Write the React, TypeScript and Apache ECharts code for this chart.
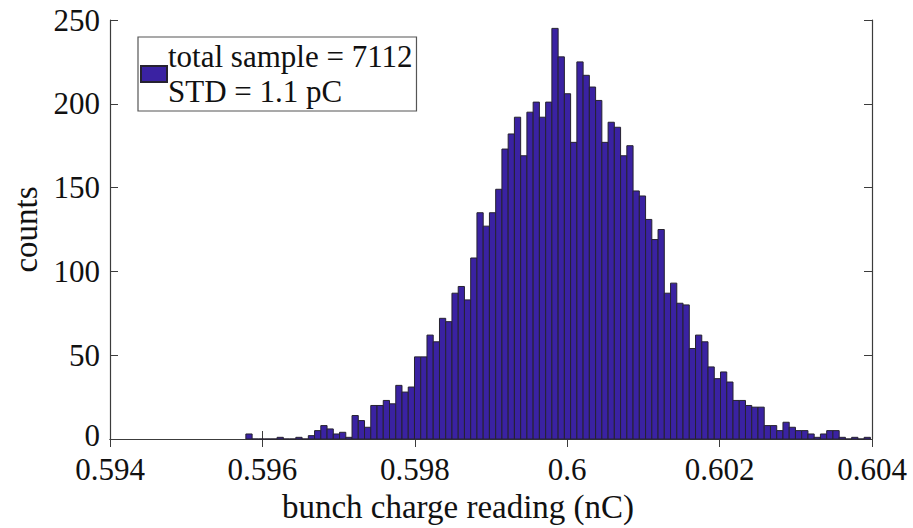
import React, { useEffect, useRef } from "react";
import * as echarts from "echarts";

// Histogram: 100 bins (MATLAB hist), bin start and width in nC
const binStart = 0.595783;
const binWidth = 0.00008196;
const counts = [
  3, 0, 0, 0, 0, 1, 0, 0, 1, 0,
  2, 5, 8, 6, 3, 4, 1, 14, 11, 7,
  20, 20, 23, 21, 32, 28, 31, 49, 49, 62,
  58, 72, 70, 87, 91, 83, 108, 135, 127, 135,
  149, 173, 182, 192, 169, 195, 201, 192, 201, 245,
  228, 206, 177, 225, 217, 210, 202, 177, 189, 186,
  169, 175, 148, 145, 131, 119, 125, 87, 93, 81,
  80, 54, 62, 58, 43, 36, 40, 34, 23, 23,
  20, 19, 19, 8, 8, 5, 10, 7, 5, 5,
  3, 1, 3, 5, 5, 1, 0, 1, 0, 1,
];
const xTicks = { min: 0.594, max: 0.604, interval: 0.002 };
const yTicks = { min: 0, max: 250, interval: 50 };
const legendLabel = "total sample = 7112\nSTD = 1.1 pC";
const xName = "bunch charge reading (nC)";
const yName = "counts";

const FONT = "'Liberation Serif', 'Times New Roman', serif";
const FILL = "#3a22a2";
const EDGE = "#262230";
const AXIS = "#3c3c3c";

export default function App() {
  const ref = useRef<HTMLDivElement>(null);
  useEffect(() => {
    if (!ref.current) return;
    const chart = echarts.init(ref.current, null, { renderer: "svg" });
    const data = counts.map((c, i) => [binStart + i * binWidth, binStart + (i + 1) * binWidth, c]);
    const fmt = (v: number) => String(parseFloat(v.toFixed(3)));
    const common = {
      type: "value" as const,
      axisLine: { show: true, lineStyle: { color: AXIS, width: 1.2 } },
      axisTick: { show: true, inside: true, length: 8, lineStyle: { color: AXIS } },
      splitLine: { show: false },
    };
    const lbl = { fontFamily: FONT, fontSize: 31, color: "#111" };
    chart.setOption({
      animation: false,
      grid: { left: 110, right: 41, top: 20, bottom: 87, containLabel: false },
      legend: {
        left: 138,
        top: 37,
        orient: "vertical",
        data: [{ name: legendLabel, icon: "rect" }],
        itemWidth: 26,
        itemHeight: 16,
        itemGap: 0,
        padding: [2, 4, 2, 2],
        borderColor: "#555",
        borderWidth: 1.2,
        backgroundColor: "#fff",
        selectedMode: false,
        textStyle: { fontFamily: FONT, fontSize: 31, color: "#111", lineHeight: 35, padding: [0, 0, 0, -4] },
      },
      xAxis: [
        {
          ...common,
          ...xTicks,
          position: "bottom",
          axisLabel: { formatter: fmt, ...lbl, lineHeight: 26, margin: 17 },
          name: xName,
          nameLocation: "middle",
          nameGap: 51,
          nameTextStyle: { fontFamily: FONT, fontSize: 33, color: "#111", padding: [0, 66, 0, 0] },
        },
        { ...common, ...xTicks, position: "top", axisLabel: { show: false } },
      ],
      yAxis: [
        {
          ...common,
          ...yTicks,
          position: "left",
          axisLabel: {
            ...lbl,
            lineHeight: 24,
            margin: 10,
            formatter: (v: number) => (v === 0 ? "{z|0}" : "{n|" + v + "}"),
            rich: {
              z: { ...lbl, lineHeight: 24, padding: [0, 0, 8, 0] },
              n: { ...lbl, lineHeight: 24 },
            },
          },
          name: yName,
          nameLocation: "middle",
          nameGap: 66,
          nameTextStyle: { fontFamily: FONT, fontSize: 33, color: "#111" },
        },
        { ...common, ...yTicks, position: "right", axisLabel: { show: false } },
      ],
      series: [
        {
          type: "custom",
          name: legendLabel,
          xAxisIndex: 0,
          yAxisIndex: 0,
          itemStyle: { color: FILL, borderColor: EDGE, borderWidth: 1 },
          encode: { x: [0, 1], y: 2 },
          data,
          renderItem: (params: any, api: any) => {
            const p0 = api.coord([api.value(0), api.value(2)]);
            const p1 = api.coord([api.value(1), 0]);
            return {
              type: "rect",
              shape: { x: p0[0], y: p0[1], width: p1[0] - p0[0], height: p1[1] - p0[1] },
              style: { fill: FILL, stroke: EDGE, lineWidth: 1 },
            };
          },
        },
      ],
    });
    return () => chart.dispose();
  }, []);
  return <div ref={ref} style={{ width: 913, height: 528, position: "absolute", left: 0, top: 0 }} />;
}
